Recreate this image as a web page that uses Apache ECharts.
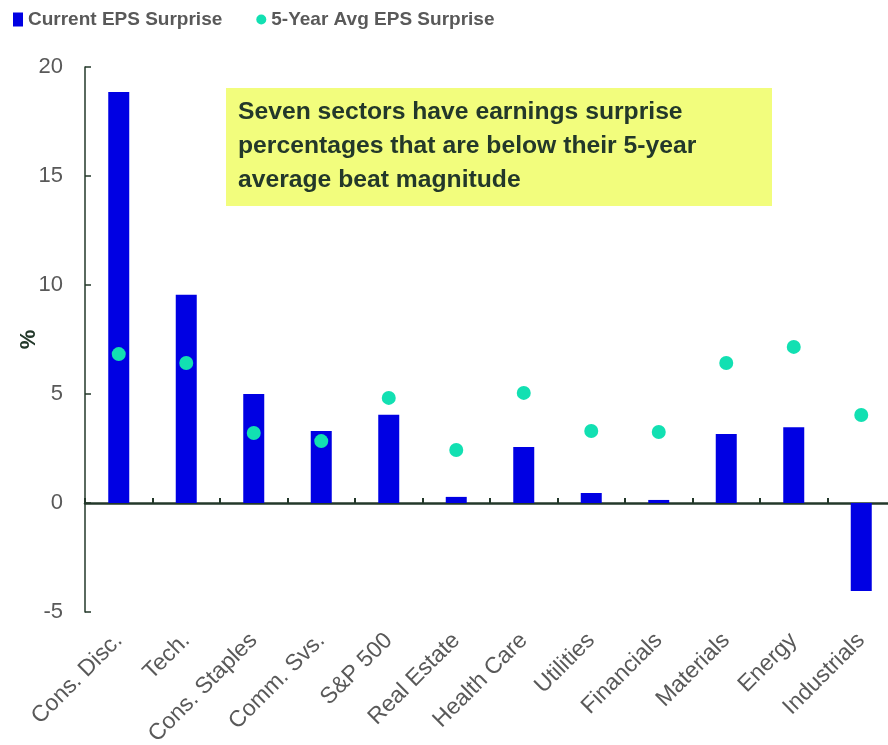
<!DOCTYPE html>
<html>
<head>
<meta charset="utf-8">
<script src="https://cdn.jsdelivr.net/npm/echarts@6/dist/echarts.min.js"></script>
<style>
  html, body { margin: 0; padding: 0; background: #fff; }
  #chart { width: 888px; height: 745px; }
</style>
</head>
<body>
<div id="chart"></div>
<script>
  // sectors, in chart order
  var categories = ["Cons. Disc.", "Tech.", "Cons. Staples", "Comm. Svs.", "S&P 500", "Real Estate",
                    "Health Care", "Utilities", "Financials", "Materials", "Energy", "Industrials"];
  var currentSurprise = [18.85, 9.55, 5.0, 3.3, 4.05, 0.28, 2.57, 0.46, 0.14, 3.17, 3.48, -4.04];
  var avgSurprise = [6.83, 6.42, 3.21, 2.84, 4.82, 2.43, 5.05, 3.3, 3.26, 6.42, 7.16, 4.04];
  var yTicks = [-5, 0, 5, 10, 15, 20];
  var note = "Seven sectors have earnings surprise\npercentages that are below their 5-year\naverage beat magnitude";

  var axisColor = "#23382a";
  var labelColor = "#595959";
  var font = "Liberation Sans, Arial, sans-serif";

  var chart = echarts.init(document.getElementById("chart"));
  var option = {
    animation: false,
    textStyle: { fontFamily: font },
    legend: {
      left: 8,
      top: 5,
      itemGap: 34,
      itemWidth: 10,
      itemHeight: 14,
      textStyle: { fontSize: 19, fontWeight: "bold", color: labelColor, fontFamily: font },
      data: [
        { name: "Current EPS Surprise", icon: "rect" },
        { name: "5-Year Avg EPS Surprise", icon: "circle" }
      ]
    },
    grid: { left: 85, right: -7, top: 67, bottom: 133, containLabel: false, outerBoundsMode: "none" },
    xAxis: {
      type: "category",
      data: categories,
      boundaryGap: true,
      axisLine: { onZero: true, lineStyle: { color: axisColor, width: 2.5 } },
      axisTick: { show: true, inside: true, length: 5, lineStyle: { color: axisColor, width: 2 } },
      axisLabel: {
        rotate: 45,
        interval: 0,
        fontSize: 23,
        color: labelColor,
        margin: 25
      }
    },
    yAxis: {
      type: "value",
      min: yTicks[0],
      max: yTicks[yTicks.length - 1],
      interval: 5,
      name: "%",
      nameLocation: "middle",
      nameRotate: 90,
      nameGap: 45,
      nameMoveOverlap: false,
      nameTextStyle: { fontSize: 22, fontWeight: "bold", color: axisColor },
      axisLine: { show: true, lineStyle: { color: axisColor, width: 1.5 } },
      axisTick: { show: true, inside: true, length: 6, lineStyle: { color: axisColor, width: 1.5 } },
      axisLabel: { fontSize: 22, color: labelColor, margin: 22 },
      splitLine: { show: false }
    },
    series: [
      {
        name: "Current EPS Surprise",
        type: "bar",
        data: currentSurprise,
        barWidth: 21,
        itemStyle: { color: "#0000e3" }
      },
      {
        name: "5-Year Avg EPS Surprise",
        type: "scatter",
        data: avgSurprise,
        symbolSize: 14,
        itemStyle: { color: "#12e0b2", opacity: 1 },
        z: 5
      }
    ],
    graphic: [
      {
        type: "group",
        left: 226,
        top: 88,
        children: [
          { type: "rect", shape: { x: 0, y: 0, width: 546, height: 118 }, style: { fill: "#f2fd7d" } },
          {
            type: "text",
            x: 12,
            y: 7,
            style: {
              text: note,
              fontSize: 24.7,
              fontWeight: "bold",
              fill: axisColor,
              fontFamily: font,
              lineHeight: 34
            }
          }
        ]
      }
    ]
  };
  chart.setOption(option);
</script>
</body>
</html>
